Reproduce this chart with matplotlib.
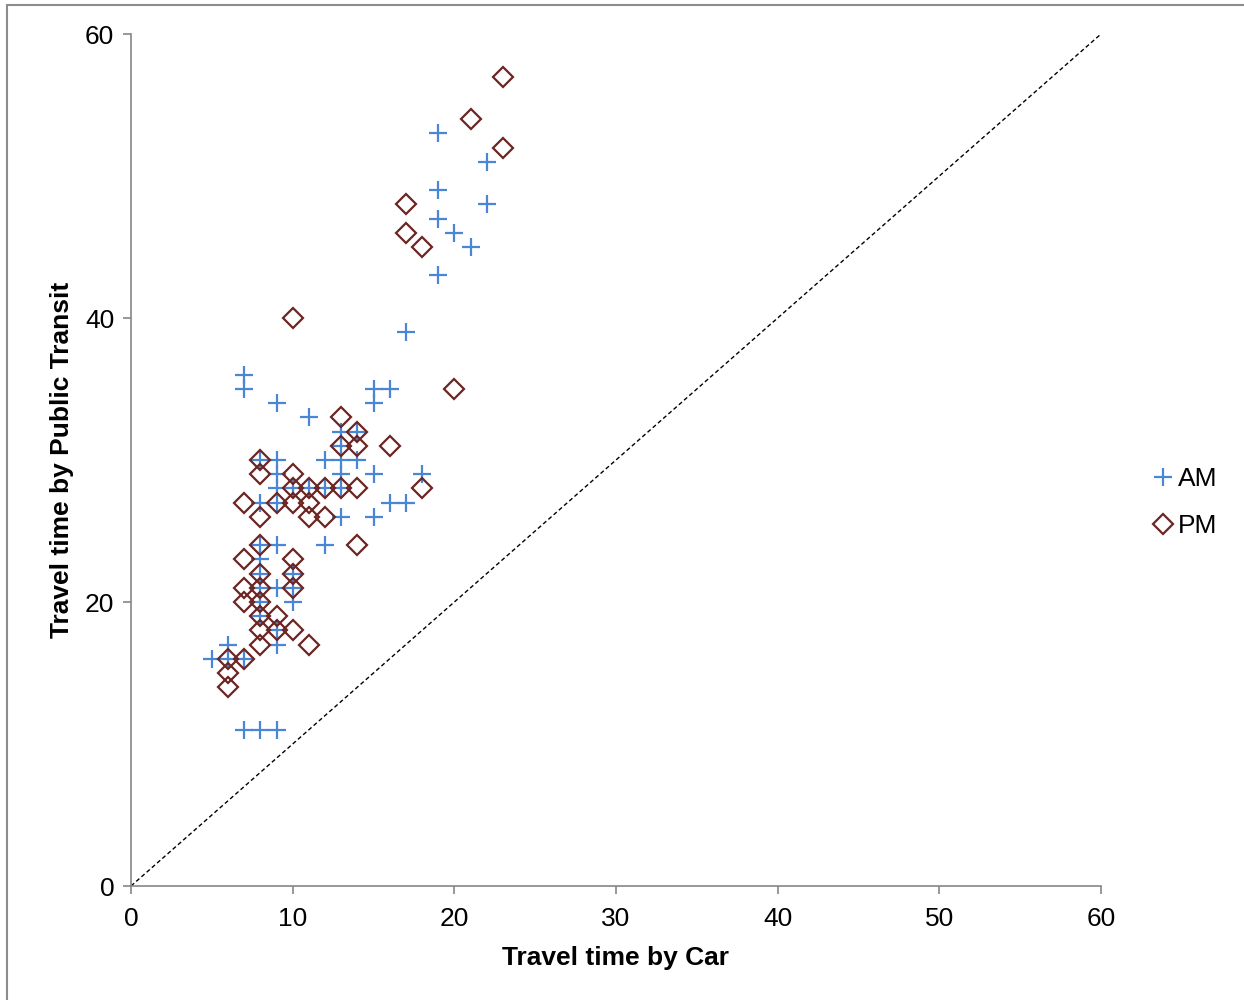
import matplotlib
matplotlib.use('Agg')
import matplotlib.pyplot as plt
from matplotlib.patches import Rectangle

plt.rcParams['font.family'] = ['Liberation Sans', 'DejaVu Sans']

# AM trips: (car time, transit time)
am_car = [5, 6, 6, 7, 7, 8, 9,
          7, 7, 9, 11, 15, 16, 15,
          13, 14, 13,
          8, 9, 12, 13, 14,
          9, 13, 15, 18,
          9, 10, 11, 12, 13,
          8, 9, 16, 17,
          13, 15,
          8, 9, 12,
          8,
          8, 10,
          8, 9, 10,
          8, 10,
          8,
          9,
          9,
          19, 22, 19, 22, 19, 20, 21, 19, 17]
am_transit = [16, 16, 17, 16, 11, 11, 11,
              36, 35, 34, 33, 35, 35, 34,
              32, 32, 31,
              30, 30, 30, 30, 30,
              29, 29, 29, 29,
              28, 28, 28, 28, 28,
              27, 27, 27, 27,
              26, 26,
              24, 24, 24,
              23,
              22, 22,
              21, 21, 21,
              20, 20,
              19,
              18,
              17,
              53, 51, 49, 48, 47, 46, 45, 43, 39]

# PM trips
pm_car = [23, 21, 23, 17, 17, 18, 10, 20,
          13, 14, 13, 14, 16,
          8, 8, 10,
          10, 11, 12, 13, 14, 18,
          7, 9, 10, 11,
          8, 11, 12,
          8, 14,
          7, 10,
          8, 10,
          7, 8, 10,
          7, 8,
          8, 9,
          8, 9, 10,
          8, 11,
          6, 7,
          6, 6]
pm_transit = [57, 54, 52, 48, 46, 45, 40, 35,
              33, 32, 31, 31, 31,
              30, 29, 29,
              28, 28, 28, 28, 28, 28,
              27, 27, 27, 27,
              26, 26, 26,
              24, 24,
              23, 23,
              22, 22,
              21, 21, 21,
              20, 20,
              19, 19,
              18, 18, 18,
              17, 17,
              16, 16,
              15, 14]

x_ticks = [0, 10, 20, 30, 40, 50, 60]
y_ticks = [0, 20, 40, 60]

fig = plt.figure(figsize=(12.44, 10), dpi=100)
ax = fig.add_axes([131 / 1244, 1 - 886 / 1000, 970 / 1244, 852 / 1000])

# equal-time reference line
ax.plot([0, 60], [0, 60], color='black', lw=1, ls=(0, (3, 2)), zorder=1)

ax.plot(am_car, am_transit, ls='none', marker='+', ms=13, mew=1.6,
        color='#4a86d6', label='AM', zorder=2)
ax.plot(pm_car, pm_transit, ls='none', marker='D', ms=10, mew=1.6,
        mfc='none', mec='#6b2523', label='PM', zorder=3)

ax.set_xlim(0, 60)
ax.set_ylim(0, 60)
ax.set_xticks(x_ticks)
ax.set_yticks(y_ticks)
ax.tick_params(labelsize=19, length=6, width=1.2, color='#868686', pad=6)
ax.tick_params(axis='x', pad=9)
for s in ['top', 'right']:
    ax.spines[s].set_visible(False)
for s in ['left', 'bottom']:
    ax.spines[s].set_color('#868686')
    ax.spines[s].set_linewidth(1.2)

ax.set_xlabel('Travel time by Car', fontsize=19, fontweight='bold', labelpad=11)
ax.set_ylabel('Travel time by Public Transit', fontsize=19, fontweight='bold', labelpad=8)

ax.legend(loc='center left', bbox_to_anchor=(1.03, 0.45), frameon=False,
          fontsize=19, handlelength=0.7, handletextpad=0.2, labelspacing=0.85)

# outer chart frame
fig.patches.append(Rectangle((7 / 1244, -0.1), 1.2, 1.1 - 5 / 1000,
                             transform=fig.transFigure, fill=False,
                             edgecolor='#8c8c8c', lw=1.5))

fig.savefig('out.png', dpi=100)
